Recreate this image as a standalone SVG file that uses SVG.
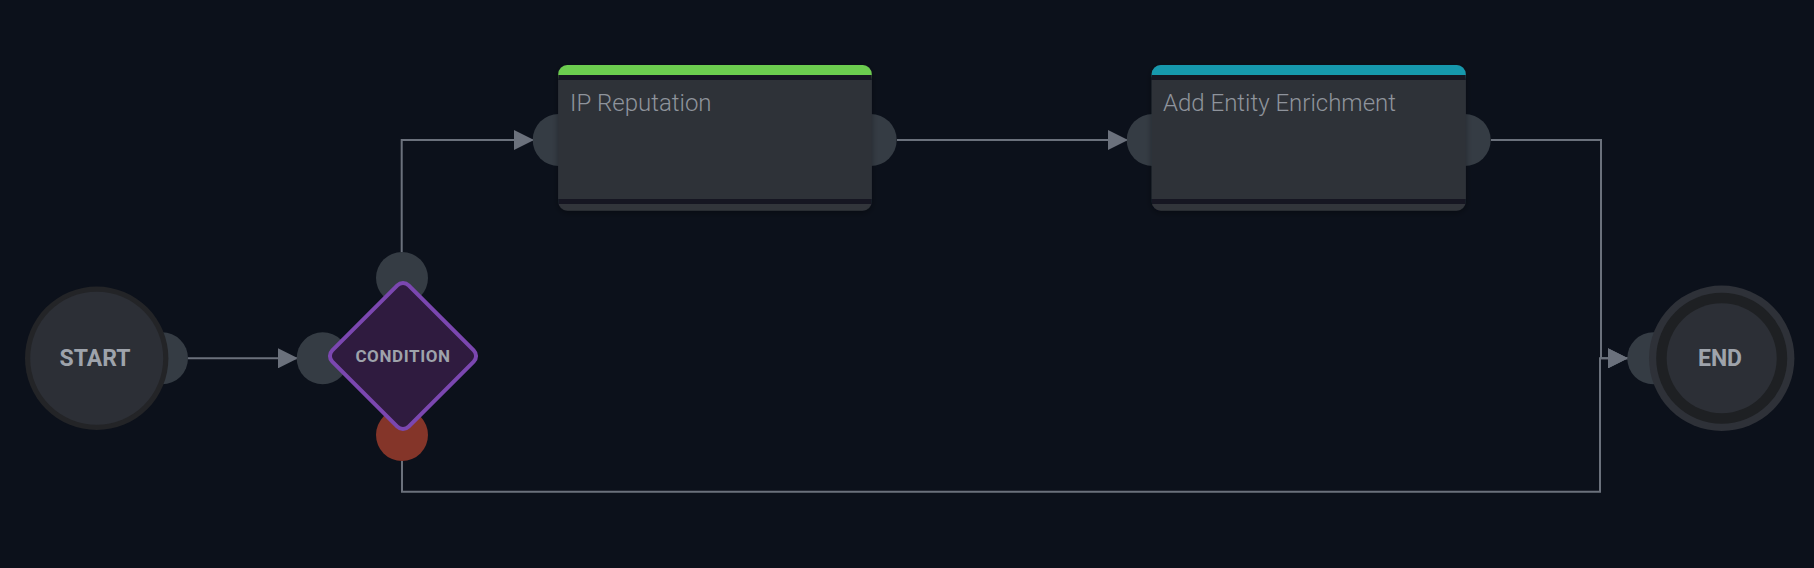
<svg xmlns="http://www.w3.org/2000/svg" width="1814" height="568" viewBox="0 0 1814 568">
<style>
.port{fill:#353c44}
.conn{fill:none;stroke:#6b717c;stroke-width:2}
.lbl{font-family:Roboto,"Liberation Sans",sans-serif;font-weight:700;fill:#9ea3ab;text-anchor:middle}
.title{font-family:Roboto,"Liberation Sans",sans-serif;font-weight:300;font-size:24px;fill:#8f949c}
.body{fill:#2d3038}
.strip{fill:#131821}
.foot{fill:#31343a}
</style>
<defs>
<marker id="arr" viewBox="0 0 20 20" refX="20" refY="10" markerWidth="20" markerHeight="20" markerUnits="userSpaceOnUse" orient="auto">
<path d="M0 0 L20 10 L0 20 z" fill="#6b717c"/>
</marker>
<filter id="sh" x="-10%" y="-10%" width="120%" height="130%">
<feDropShadow dx="0" dy="2" stdDeviation="3" flood-color="#000" flood-opacity="0.35"/>
</filter>
</defs>
<rect width="1814" height="568" fill="#0c111b"/>

<g id="connectors">
<path class="conn" d="M188 358.3 H298" marker-end="url(#arr)"/>
<path class="conn" d="M401.7 252 V140 H534" marker-end="url(#arr)"/>
<path class="conn" d="M897 140 H1128" marker-end="url(#arr)"/>
<path class="conn" d="M1491 140 H1601 V358.3 H1628" marker-end="url(#arr)"/>
<path class="conn" d="M402 461 V491.7 H1600 V358.3 H1628" marker-end="url(#arr)"/>
</g>

<g id="start">
<circle class="port" cx="162" cy="358.3" r="26"/>
<circle cx="96.7" cy="358.3" r="71.7" fill="#232427"/>
<circle cx="96.7" cy="358.3" r="66.5" fill="#2c2f36"/>
<text class="lbl" x="95" y="366" font-size="23">START</text>
</g>

<g id="condition">
<circle class="port" cx="322.7" cy="358.3" r="26"/>
<circle class="port" cx="402" cy="278" r="26"/>
<circle cx="402" cy="435" r="26" fill="#843529"/>
<rect x="349" y="302" width="108" height="108" rx="8" transform="rotate(45 403 356)" fill="#2f1b3f" stroke="#7b47b0" stroke-width="4"/>
<text class="lbl" x="403" y="362" font-size="17" letter-spacing="0.6">CONDITION</text>
</g>

<g id="ip-reputation">
<circle class="port" cx="558.7" cy="140" r="26"/>
<circle class="port" cx="870.7" cy="140" r="26"/>
<g filter="url(#sh)">
<rect x="558.3" y="65" width="313.4" height="145.7" rx="9" class="foot"/>
<rect x="558.3" y="65" width="313.4" height="20" rx="9" fill="#6ccc4f"/>
<rect x="558.3" y="75" width="313.4" height="5" class="strip"/>
<rect x="558.3" y="80" width="313.4" height="119" class="body"/>
<rect x="558.3" y="199" width="313.4" height="5" class="strip"/>
</g>
<text class="title" x="570" y="111">IP Reputation</text>
</g>

<g id="add-entity-enrichment">
<circle class="port" cx="1152.7" cy="140" r="26"/>
<circle class="port" cx="1464.7" cy="140" r="26"/>
<g filter="url(#sh)">
<rect x="1151.7" y="65" width="314" height="145.7" rx="9" class="foot"/>
<rect x="1151.7" y="65" width="314" height="20" rx="9" fill="#1798ad"/>
<rect x="1151.7" y="75" width="314" height="5" class="strip"/>
<rect x="1151.7" y="80" width="314" height="119" class="body"/>
<rect x="1151.7" y="199" width="314" height="5" class="strip"/>
</g>
<text class="title" x="1163" y="111">Add Entity Enrichment</text>
</g>

<g id="end">
<circle class="port" cx="1653.3" cy="358.3" r="26"/>
<circle cx="1721.7" cy="358.3" r="72.7" fill="#2e3138"/>
<circle cx="1721.7" cy="358.3" r="65.5" fill="#1e2023"/>
<circle cx="1721.7" cy="358.3" r="55" fill="#2c2f36"/>
<text class="lbl" x="1720" y="366" font-size="23">END</text>
</g>
</svg>
